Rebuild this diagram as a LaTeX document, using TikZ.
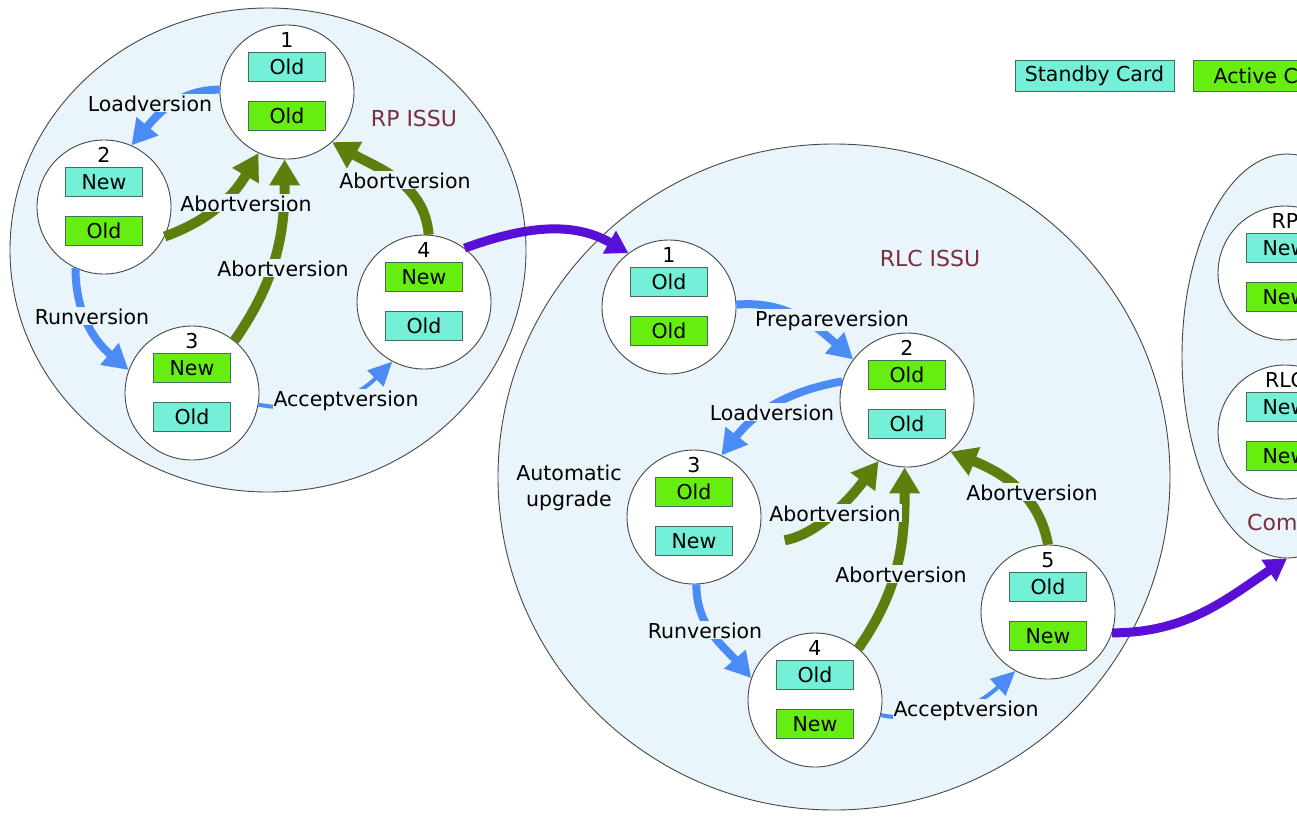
\documentclass[tikz,border=0pt]{standalone}
\usepackage{fontspec}
\setmainfont{DejaVu Sans}
\usetikzlibrary{arrows.meta,shapes.geometric}

\definecolor{zonefill}{HTML}{EAF4FB}
\definecolor{standbyc}{HTML}{74EFD8}
\definecolor{activec}{HTML}{66EE11}
\definecolor{boxline}{HTML}{4A6A5A}
\definecolor{stepblue}{HTML}{4A8BF5}
\definecolor{abortgreen}{HTML}{5E7F0E}
\definecolor{hoppurple}{HTML}{5A0FD6}
\definecolor{titlered}{HTML}{7A2E3E}
\definecolor{ringline}{HTML}{474747}

% one card-pair state: name, x, y, caption, upper style, upper text, lower style, lower text
\newcommand{\cardstate}[8]{%
  \node[ball] (#1) at (#2,#3) {};
  \node[numtext] (#1num) at (#2,{#3-52}) {#4};
  \node[#5] (#1top) at (#2,{#3-25}) {#6};
  \node[#7] (#1bot) at (#2,{#3+24}) {#8};
}

\begin{document}
\begin{tikzpicture}[x=1pt,y=-1pt,
  every node/.style={font=\fontsize{20.5}{24}\selectfont},
  zone/.style={ellipse, draw=ringline, line width=0.9pt, fill=zonefill, inner sep=0pt},
  ball/.style={circle, draw=ringline, line width=0.9pt, fill=white, minimum size=134pt, inner sep=0pt},
  sbybox/.style={draw=boxline, line width=0.8pt, fill=standbyc, minimum width=77pt, minimum height=29pt, inner sep=0pt},
  actbox/.style={sbybox, fill=activec},
  numtext/.style={inner sep=0pt},
  zonetitle/.style={text=titlered, font=\fontsize{22}{26}\selectfont, inner sep=0pt},
  cmd/.style={fill=zonefill, inner sep=1pt, anchor=base},
  plain/.style={inner sep=0pt, anchor=base},
  fwd/.style={draw=stepblue, line width=8pt, -{Triangle[length=25pt,width=27pt]}},
  accept/.style={draw=stepblue, line width=4pt, -{Triangle[length=24pt,width=22pt]}},
  back/.style={draw=abortgreen, line width=10pt, -{Triangle[length=26pt,width=29pt]}},
  hop/.style={draw=hoppurple, line width=9pt, -{Triangle[length=22pt,width=25pt]}}
]
\useasboundingbox (0,0) rectangle (1297,817);
\clip (0,0) rectangle (1297,817);

% the three phases
\node[zone, minimum width=516pt, minimum height=484pt] (rpzone) at (268,250) {};
\node[zone, minimum width=672pt, minimum height=666pt] (rlczone) at (834,477) {};
\node[zone, minimum width=210pt, minimum height=404pt] (done) at (1287,356) {};

\node[zonetitle, anchor=base] (rptitle) at (414,126) {RP ISSU};
\node[zonetitle, anchor=base] (rlctitle) at (930,266) {RLC ISSU};
\node[zonetitle, anchor=base west] (donetitle) at (1247,530) {Complete};

% legend
\node[sbybox, minimum width=159pt, minimum height=31pt] (keystandby) at (1094.5,76) {Standby Card};
\node[actbox, minimum width=159pt, minimum height=31pt] (keyactive) at (1272.5,76) {Active Card};

% RP ISSU states
\cardstate{p1}{287}{92}{1}{sbybox}{Old}{actbox}{Old}
\cardstate{p2}{104}{207}{2}{sbybox}{New}{actbox}{Old}
\cardstate{p3}{192}{393}{3}{actbox}{New}{sbybox}{Old}
\cardstate{p4}{424}{302}{4}{actbox}{New}{sbybox}{Old}

% RLC ISSU states
\cardstate{r1}{669}{307}{1}{sbybox}{Old}{actbox}{Old}
\cardstate{r2}{907}{400}{2}{actbox}{Old}{sbybox}{Old}
\cardstate{r3}{694}{517}{3}{actbox}{Old}{sbybox}{New}
\cardstate{r4}{815}{700}{4}{sbybox}{Old}{actbox}{New}
\cardstate{r5}{1048}{612}{5}{sbybox}{Old}{actbox}{New}

% completed states
\cardstate{crp}{1285}{273}{RP}{sbybox}{New}{actbox}{New}
\cardstate{crlc}{1285}{432}{RLC}{sbybox}{New}{actbox}{New}

% RP ISSU transitions
\draw[fwd] (p1.178) to[out=180,in=50] (p2.66);
\draw[fwd] (p2.245) to[out=270,in=140] (p3.160);
\draw[accept] (p3.-10) to[out=-10,in=225] (p4.242);
\draw[back] (p2.-26) to[out=20,in=240] (p1.245);
\draw[back] (p3.51) to[out=55,in=270] (p1.268);
\draw[back] (p4.86) to[out=95,in=-30] (p1.-48);
\draw[hop] (p4.53) to[out=20,in=150] (r1.127);

% RLC ISSU transitions
\draw[fwd] (r1.2) to[out=5,in=138] (r2.143);
\draw[fwd] (r2.164) to[out=190,in=52] (r3.66);
\draw[fwd] (r3.-88) to[out=270,in=131] (r4.161);
\draw[accept] (r4.-13) to[out=-10,in=223] (r5.241);
\draw[back, shorten <=30pt] (r3.-25) to[out=10,in=233] (r2.245);
\draw[back] (r4.50) to[out=55,in=270] (r2.268);
\draw[back] (r5.90) to[out=100,in=-22] (r2.-50);
\draw[hop] (r5.-18) to[out=0,in=214] (done.south);

% command labels
\node[cmd] (lpload) at (150,111) {Loadversion};
\node[cmd] (lprun) at (92,324) {Runversion};
\node[cmd] (lpaccept) at (346,406) {Acceptversion};
\node[cmd] (lpabort2) at (246,211) {Abortversion};
\node[cmd] (lpabort3) at (283,276) {Abortversion};
\node[cmd] (lpabort4) at (405,188) {Abortversion};

\node[cmd] (lrprep) at (832,326) {Prepareversion};
\node[cmd] (lrload) at (772,420) {Loadversion};
\node[cmd] (lrrun) at (705,638) {Runversion};
\node[cmd] (lraccept) at (966,716) {Acceptversion};
\node[cmd] (lrabort3) at (835,521) {Abortversion};
\node[cmd] (lrabort4) at (901,582) {Abortversion};
\node[cmd] (lrabort5) at (1032,500) {Abortversion};

\node[plain] (autoa) at (569,480) {Automatic};
\node[plain] (autob) at (569,506) {upgrade};
\end{tikzpicture}
\end{document}
